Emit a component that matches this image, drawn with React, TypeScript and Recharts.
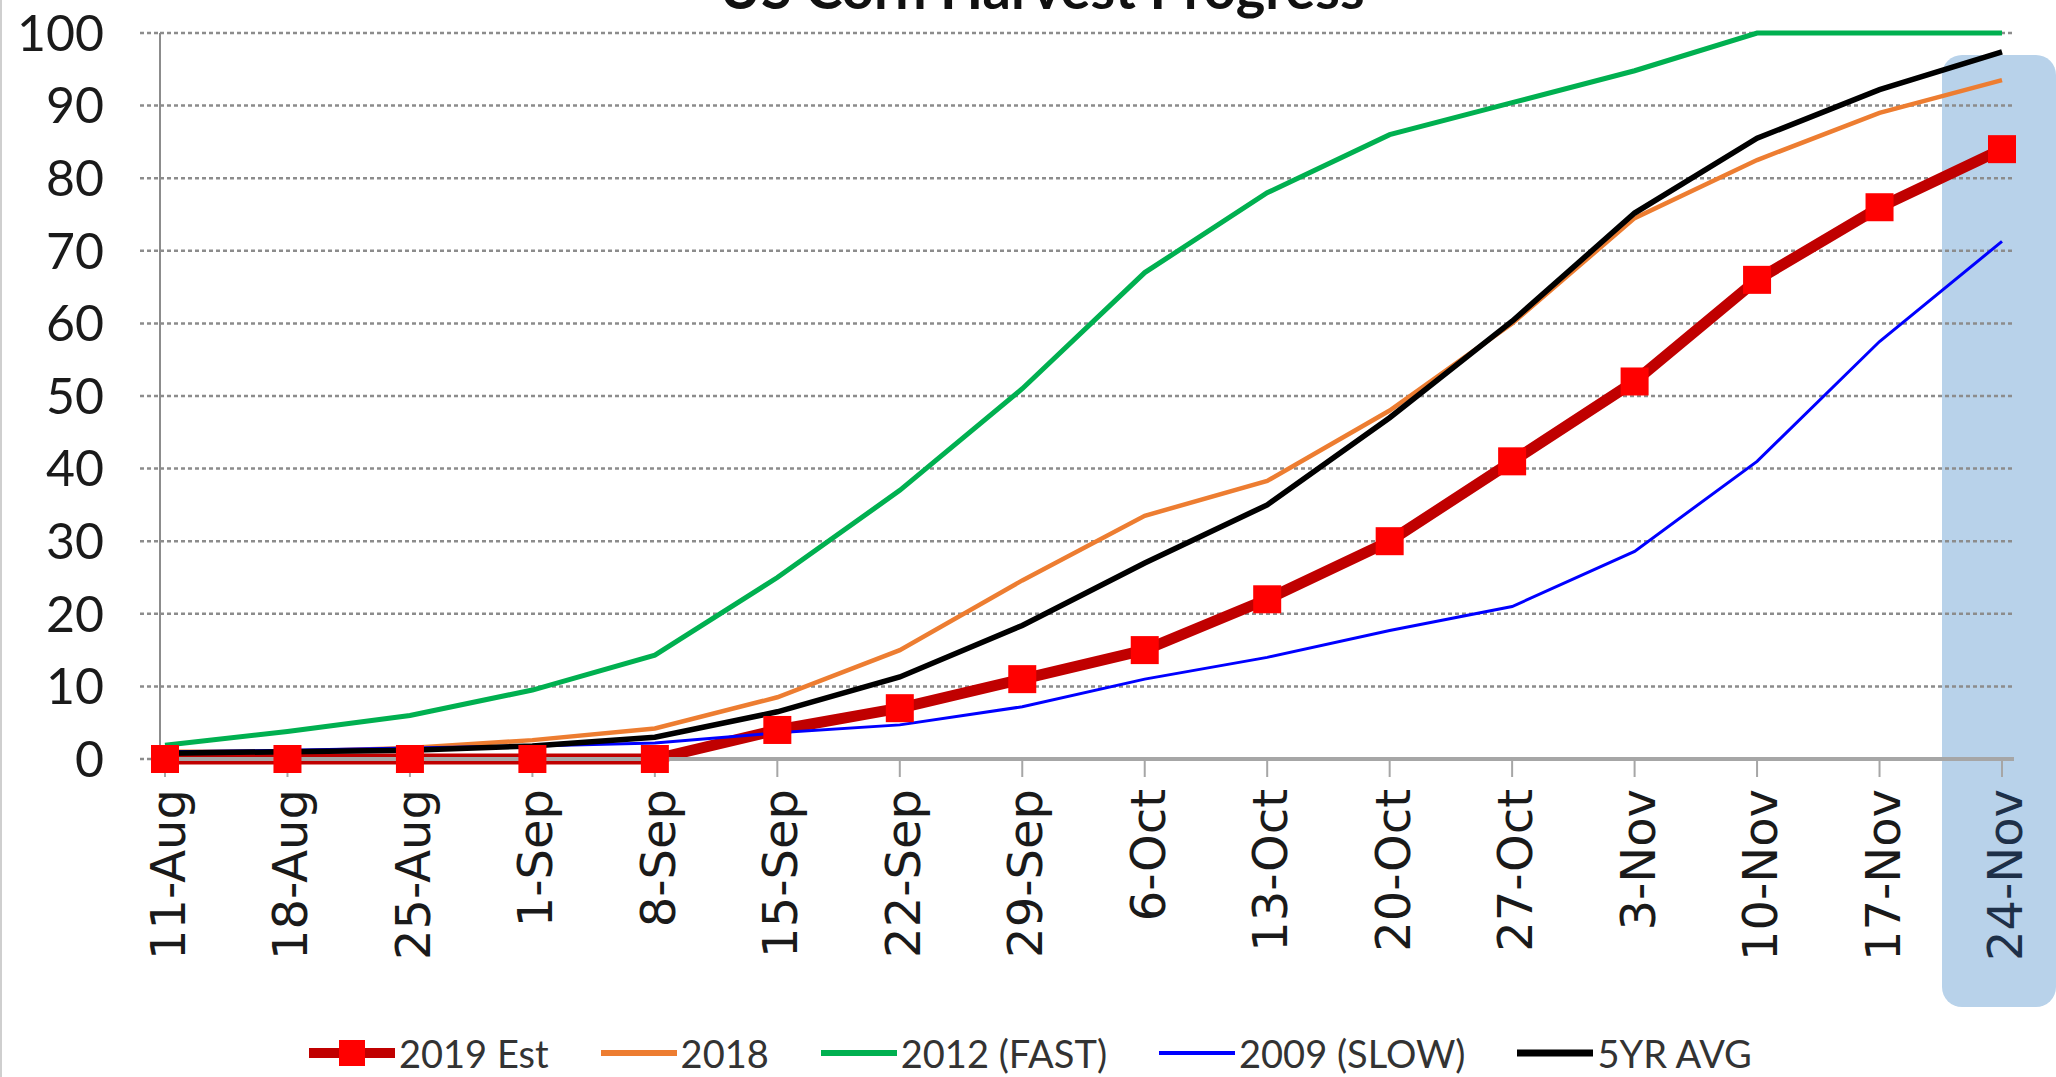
import React from 'react';
import { LineChart, Line, XAxis, YAxis, CartesianGrid, Legend } from 'recharts';

// weekly harvest progress, % of crop harvested
const dates = [
  '11-Aug', '18-Aug', '25-Aug', '1-Sep', '8-Sep', '15-Sep', '22-Sep', '29-Sep',
  '6-Oct', '13-Oct', '20-Oct', '27-Oct', '3-Nov', '10-Nov', '17-Nov', '24-Nov',
];
const est2019 = [0, 0, 0, 0, 0, 4, 7, 11, 15, 22, 30, 41, 52, 66, 76, 84];
const y2018 = [1, 1, 1.5, 2.6, 4.2, 8.5, 15, 24.6, 33.5, 38.3, 48, 60, 74.5, 82.5, 89, 93.5];
const y2012 = [1.9, 3.8, 6, 9.5, 14.3, 25, 37, 51, 67, 78, 86, 90.4, 94.8, 100, 100, 100];
const y2009 = [1, 1.2, 1.5, 1.8, 2.2, 3.6, 4.7, 7.2, 11, 14, 17.7, 21, 28.6, 41, 57.5, 71.3];
const avg5 = [0.8, 1, 1.2, 1.8, 3, 6.5, 11.3, 18.4, 27, 35, 47, 60.3, 75.2, 85.5, 92.2, 97.4];
const yTicks = [0, 10, 20, 30, 40, 50, 60, 70, 80, 90, 100];

const data = dates.map((date, i) => ({
  date,
  est2019: est2019[i],
  y2018: y2018[i],
  y2012: y2012[i],
  y2009: y2009[i],
  avg5: avg5[i],
}));

const SERIES = [
  { key: 'est2019', name: '2019 Est', color: '#c00000', width: 11, legendWidth: 10 },
  { key: 'y2018', name: '2018', color: '#ed7d31', width: 4.5, legendWidth: 6 },
  { key: 'y2012', name: '2012 (FAST)', color: '#00b050', width: 5, legendWidth: 6 },
  { key: 'y2009', name: '2009 (SLOW)', color: '#0000ff', width: 3, legendWidth: 4 },
  { key: 'avg5', name: '5YR AVG', color: '#000000', width: 5.5, legendWidth: 7 },
];

const SquareDot = (props: any) => {
  const { cx, cy } = props;
  if (cx == null || cy == null) return null;
  return <rect x={cx - 14} y={cy - 14} width={28} height={28} fill="#ff0000" />;
};

const DateTick = (props: any) => {
  const { x, y, payload } = props;
  const last = payload.value === dates[dates.length - 1];
  return (
    <text
      transform={`translate(${x + 3},${y + 12}) rotate(-90)`}
      textAnchor="end"
      dominantBaseline="central"
      fontFamily="'DejaVu Sans', sans-serif"
      fontSize={48}
      fill={last ? '#1e3048' : '#1a1a1a'}
    >
      {payload.value}
    </text>
  );
};

// legend keeps the series order (recharts would sort it by name)
const renderLegend = () => (
  <div
    style={{
      display: 'flex',
      alignItems: 'center',
      height: 56,
      boxSizing: 'border-box',
      paddingTop: 8,
      paddingLeft: 307,
      fontFamily: 'Lato, sans-serif',
      fontSize: 38,
      color: '#333',
      whiteSpace: 'nowrap',
    }}
  >
    {SERIES.map((s) => {
      const isEst = s.key === 'est2019';
      const len = isEst ? 86 : 76;
      return (
        <div key={s.key} style={{ display: 'flex', alignItems: 'center', marginRight: 52 }}>
          <svg width={len} height={32}>
            <line x1={0} x2={len} y1={16} y2={16} stroke={s.color} strokeWidth={s.legendWidth} />
            {isEst && <rect x={len / 2 - 13} y={3} width={26} height={26} fill="#ff0000" />}
          </svg>
          <span style={{ marginLeft: 4 }}>{s.name}</span>
        </div>
      );
    })}
  </div>
);

export default function App() {
  return (
    <div
      style={{
        position: 'absolute',
        left: 0,
        top: 0,
        width: 2056,
        height: 1077,
        overflow: 'hidden',
        background: '#fff',
        borderLeft: '2px solid #cfcfcf',
        boxSizing: 'border-box',
      }}
    >
      {/* highlight behind the latest week */}
      <div
        style={{
          position: 'absolute',
          left: 1940,
          top: 55,
          width: 114,
          height: 952,
          borderRadius: 20,
          background: '#b8d2ea',
        }}
      />
      <div
        style={{
          position: 'absolute',
          left: 0,
          top: 0,
          width: 2056,
          height: 1077,
        }}
      >
        <LineChart
          width={2056}
          height={1077}
          data={data}
          margin={{ top: 33, right: 44, left: 0, bottom: 0 }}
        >
          <CartesianGrid
            vertical={false}
            stroke="#8c8c8c"
            strokeWidth={2.5}
            strokeDasharray="4 3"
          />
          <XAxis
            dataKey="date"
            interval={0}
            height={262}
            padding={{ left: 5, right: 12 }}
            tickSize={18}
            tickMargin={0}
            axisLine={{ stroke: '#a6a6a6', strokeWidth: 4 }}
            tickLine={{ stroke: '#a6a6a6', strokeWidth: 2 }}
            tick={<DateTick />}
          />
          <YAxis
            width={158}
            domain={[0, 100]}
            ticks={yTicks}
            interval={0}
            tickSize={20}
            tickMargin={36}
            axisLine={{ stroke: '#8c8c8c', strokeWidth: 2 }}
            tickLine={{ stroke: '#8c8c8c', strokeWidth: 2.5, strokeDasharray: '4 3' }}
            tick={{ fontFamily: 'Lato, sans-serif', fontSize: 50, fill: '#1a1a1a' }}
          />
          <Legend verticalAlign="bottom" content={renderLegend} wrapperStyle={{ left: 0, width: 2056 }} />
          {SERIES.map((s) => (
            <Line
              key={s.key}
              type="linear"
              dataKey={s.key}
              name={s.name}
              stroke={s.color}
              strokeWidth={s.width}
              dot={s.key === 'est2019' ? <SquareDot /> : false}
              activeDot={false}
              isAnimationActive={false}
            />
          ))}
        </LineChart>
      </div>
      <div
        style={{
          position: 'absolute',
          left: 1040,
          top: -40,
          transform: 'translateX(-50%)',
          fontFamily: 'Lato, sans-serif',
          fontWeight: 700,
          fontSize: 56,
          lineHeight: '56px',
          whiteSpace: 'nowrap',
          color: '#111',
        }}
      >
        US Corn Harvest Progress
      </div>
    </div>
  );
}
